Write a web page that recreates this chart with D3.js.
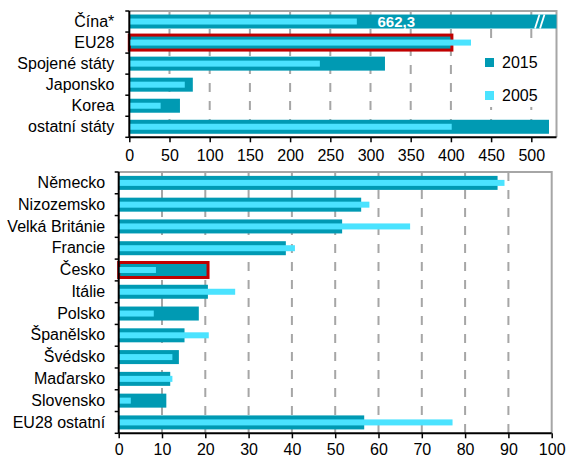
<!DOCTYPE html>
<html>
<head>
<meta charset="utf-8">
<script src="https://cdn.jsdelivr.net/npm/d3@7"></script>
<style>
  body { margin: 0; background: #fff; }
  svg { display: block; font-family: "Liberation Sans", Arial, sans-serif; }
</style>
</head>
<body>
<svg id="chart" width="566" height="458"></svg>
<script>
// top panel - world
const topCats = ["Čína*", "EU28", "Spojené státy", "Japonsko", "Korea", "ostatní státy"];
const top2015 = [662.3, 400, 318, 79, 63, 522];
const top2005 = [283, 425, 237, 69, 39, 401];
const topTicks = [0, 50, 100, 150, 200, 250, 300, 350, 400, 450, 500];

// bottom panel - EU countries
const botCats = ["Německo", "Nizozemsko", "Velká Británie", "Francie", "Česko", "Itálie",
  "Polsko", "Španělsko", "Švédsko", "Maďarsko", "Slovensko", "EU28 ostatní"];
const bot2015 = [87.5, 56.0, 51.6, 38.6, 20.4, 20.6, 18.5, 15.2, 13.9, 11.9, 11.0, 56.7];
const bot2005 = [89.1, 57.9, 67.3, 40.7, 8.6, 26.9, 8.1, 20.8, 12.4, 12.4, 2.8, 77.1];
const botTicks = [0, 10, 20, 30, 40, 50, 60, 70, 80, 90, 100];

const highlighted = ["EU28", "Česko"];
const seriesNames = ["2015", "2005"];

const dark = "#009ab3", light = "#4be3ff", red = "#c00000", grid = "#a6a6a6";

const svg = d3.select("#chart");

function panel(opts) {
  const g = svg.append("g");
  const x = opts.x, y = opts.y;
  const left = x(0), right = opts.right;
  const top = y.range()[0], bottom = y.range()[1];

  // grid
  g.selectAll(".grid")
    .data(opts.ticks.filter(t => t > 0 && x(t) < right - 2))
    .enter().append("line")
    .attr("x1", d => x(d)).attr("x2", d => x(d))
    .attr("y1", top).attr("y2", bottom)
    .attr("stroke", grid).attr("stroke-width", 2)
    .attr("stroke-dasharray", "9,9");

  // frame top/right
  g.append("path")
    .attr("d", `M${left},${top}H${right}V${bottom}`)
    .attr("fill", "none").attr("stroke", grid).attr("stroke-width", 2);

  if (opts.legend) opts.legend(g);

  const barH = 14, lightH = 6;
  const rows = opts.cats.map((c, i) => ({ c: c, v15: opts.v15[i], v05: opts.v05[i] }));

  g.selectAll(".b15").data(rows).enter().append("rect")
    .attr("x", left)
    .attr("y", d => y(d.c) + y.bandwidth() / 2 - barH / 2)
    .attr("width", d => Math.min(x(d.v15), right) - left)
    .attr("height", barH)
    .attr("fill", dark);

  // red outline for highlighted rows
  g.selectAll(".hl").data(rows.filter(d => highlighted.includes(d.c))).enter().append("rect")
    .attr("x", left)
    .attr("y", d => y(d.c) + y.bandwidth() / 2 - barH / 2 - 0.5)
    .attr("width", d => x(d.v15) - left + 1)
    .attr("height", barH + 1)
    .attr("fill", "none").attr("stroke", red).attr("stroke-width", 3);

  g.selectAll(".b05").data(rows).enter().append("rect")
    .attr("x", left)
    .attr("y", d => y(d.c) + y.bandwidth() / 2 - lightH / 2)
    .attr("width", d => x(d.v05) - left)
    .attr("height", lightH)
    .attr("fill", light);

  // axes
  const xa = g.append("g").attr("transform", `translate(0,${bottom})`)
    .call(d3.axisBottom(x).tickValues(opts.ticks).tickSize(5).tickPadding(opts.tickPad));
  xa.select(".domain").remove();
  xa.selectAll("line").attr("stroke", "#000").attr("stroke-width", 1.5);
  xa.selectAll("text").attr("font-size", 16).attr("fill", "#000")
    .attr("font-family", "Liberation Sans, Arial, sans-serif");
  g.append("line").attr("x1", left).attr("x2", right).attr("y1", bottom).attr("y2", bottom)
    .attr("stroke", "#000").attr("stroke-width", 2);

  const ya = g.append("g").attr("transform", `translate(${left},0)`)
    .call(d3.axisLeft(y).tickSize(0).tickPadding(opts.labelPad));
  ya.select(".domain").remove();
  ya.selectAll("text").attr("font-size", 16).attr("fill", "#000")
    .attr("font-family", "Liberation Sans, Arial, sans-serif");
  g.selectAll(".ytick").data(d3.range(opts.cats.length + 1)).enter().append("line")
    .attr("x1", left - 4).attr("x2", left)
    .attr("y1", i => top + i * y.step()).attr("y2", i => top + i * y.step())
    .attr("stroke", "#000").attr("stroke-width", 1.5);
  g.append("line").attr("x1", left).attr("x2", left).attr("y1", top).attr("y2", bottom)
    .attr("stroke", "#000").attr("stroke-width", 2);

  return g;
}

// top
const xTop = d3.scaleLinear().domain([0, 500]).range([129.3, 531.3]);
const yTop = d3.scaleBand().domain(topCats).range([11, 137.3]);
const gTop = panel({
  x: xTop, y: yTop, right: 556.5, cats: topCats, v15: top2015, v05: top2005,
  ticks: topTicks, labelPad: 15, tickPad: 7,
  legend: g => {
    g.append("rect").attr("x", 477).attr("y", 41).attr("width", 76).attr("height", 66).attr("fill", "#fff");
    const items = g.selectAll(".leg").data(seriesNames).enter().append("g")
      .attr("transform", (d, i) => `translate(485,${58 + i * 33})`);
    items.append("rect").attr("width", 9).attr("height", 9)
      .attr("fill", (d, i) => i === 0 ? dark : light);
    items.append("text").attr("x", 17).attr("y", 10).attr("font-size", 16).text(d => d);
  }
});

// value label and break mark on the China bar
const cy = yTop(topCats[0]) + yTop.bandwidth() / 2;
gTop.append("text").attr("x", xTop(332)).attr("y", cy + 5.5)
  .attr("text-anchor", "middle").attr("font-size", 15).attr("font-weight", "bold")
  .attr("fill", "#fff").text(d3.format(",.1f")(top2015[0]).replace(".", ","));
[0, 5].forEach(o => {
  gTop.append("line").attr("x1", 535 + o).attr("y1", cy + 7).attr("x2", 539.5 + o).attr("y2", cy - 7)
    .attr("stroke", "#fff").attr("stroke-width", 1.8);
});

// bottom
const xBot = d3.scaleLinear().domain([0, 100]).range([118.7, 551.7]);
const yBot = d3.scaleBand().domain(botCats).range([172, 433.3]);
panel({
  x: xBot, y: yBot, right: 551.7, cats: botCats, v15: bot2015, v05: bot2005,
  ticks: botTicks, labelPad: 13.5, tickPad: 5.5
});
</script>
</body>
</html>
